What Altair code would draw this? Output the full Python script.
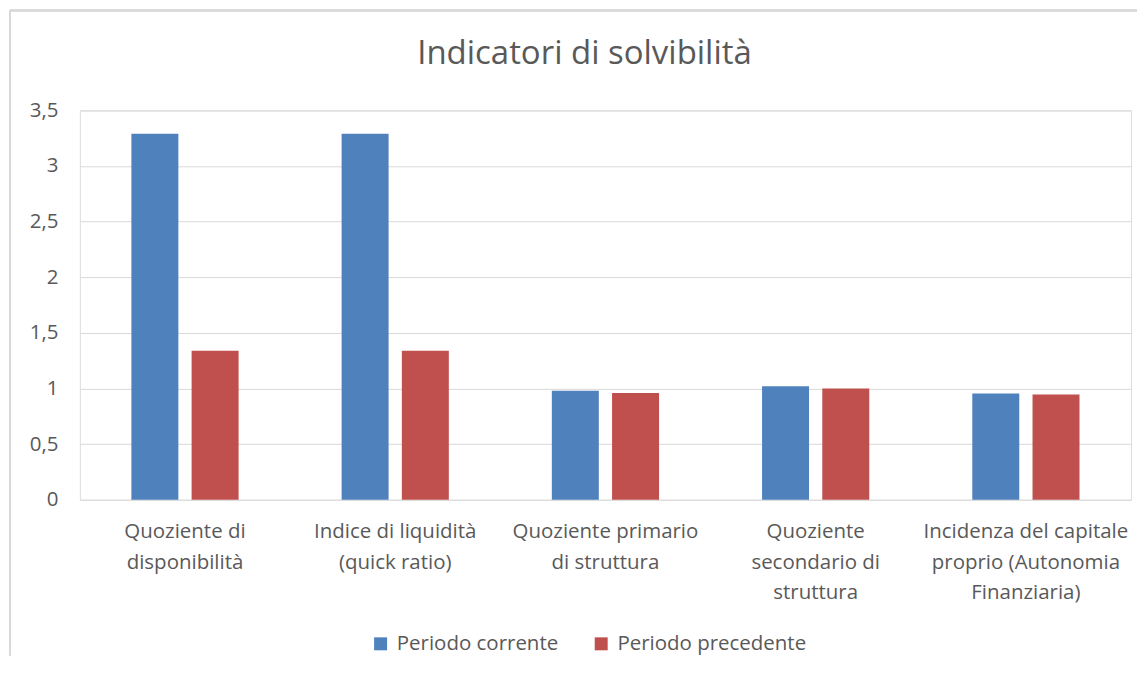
import altair as alt
import pandas as pd

categories = [
    "Quoziente di\ndisponibilità",
    "Indice di liquidità\n(quick ratio)",
    "Quoziente primario\ndi struttura",
    "Quoziente\nsecondario di\nstruttura",
    "Incidenza del capitale\nproprio (Autonomia\nFinanziaria)",
]
series = ["Periodo corrente", "Periodo precedente"]
corrente = [3.29, 3.29, 0.98, 1.02, 0.955]
precedente = [1.34, 1.34, 0.96, 1.00, 0.945]
colors = ["#4F81BD", "#C0504D"]
y_ticks = [0, 0.5, 1, 1.5, 2, 2.5, 3, 3.5]

rows = []
for c, a, b in zip(categories, corrente, precedente):
    rows.append({"categoria": c, "serie": series[0], "valore": a})
    rows.append({"categoria": c, "serie": series[1], "valore": b})
df = pd.DataFrame(rows)

FONT = "Open Sans"
TXT = "#595959"
W, H = 1053, 390
FS = 20.5

bars = alt.Chart(df).mark_bar().encode(
    x=alt.X("categoria:N", sort=categories,
            scale=alt.Scale(paddingInner=0.49, paddingOuter=0.245),
            axis=alt.Axis(title=None, labelAngle=0, ticks=False, domain=False,
                          labelExpr="split(datum.label, '\\n')",
                          labelFont=FONT, labelFontSize=FS, labelColor=TXT,
                          labelLineHeight=30.5, labelPadding=22, labelBaseline="top",
                          labelLimit=400)),
    xOffset=alt.XOffset("serie:N", sort=series,
                        scale=alt.Scale(paddingInner=0.22, paddingOuter=0)),
    y=alt.Y("valore:Q", scale=alt.Scale(domain=[0, 3.5], nice=False),
            axis=alt.Axis(title=None, values=y_ticks, ticks=False, domain=False,
                          labelExpr="replace(toString(datum.value), '.', ',')",
                          labelFont=FONT, labelFontSize=FS, labelColor=TXT,
                          labelPadding=22, gridColor="#d9d9d9", gridWidth=1)),
    color=alt.Color("serie:N", sort=series,
                    scale=alt.Scale(domain=series, range=colors),
                    legend=alt.Legend(title=None, orient="none", direction="horizontal",
                                      legendX=291, legendY=524,
                                      symbolType="square", symbolSize=169,
                                      symbolStrokeWidth=0, labelFont=FONT,
                                      labelFontSize=FS, labelColor=TXT,
                                      labelOffset=6, columnPadding=32,
                                      labelLimit=300)),
)

top_rule = alt.Chart(df).mark_rule(color="#d9d9d9", strokeWidth=1.5).encode(
    x=alt.value(-70), x2=alt.value(W + 6), y=alt.value(-100)
)
left_rule = alt.Chart(df).mark_rule(color="#d9d9d9", strokeWidth=1.5).encode(
    x=alt.value(-70), y=alt.value(-100), y2=alt.value(H + 156)
)

chart = alt.layer(bars, top_rule, left_rule).properties(
    width=W, height=H,
    title=alt.Title("Indicatori di solvibilità", font=FONT, fontSize=33,
                    fontWeight="normal", color=TXT, offset=-61, dx=-21),
    padding={"left": 1, "top": 1, "right": 0, "bottom": 0},
).configure_view(stroke=None).configure(background="white")

chart.save("out.html", embed_options={"renderer": "svg", "actions": False})
